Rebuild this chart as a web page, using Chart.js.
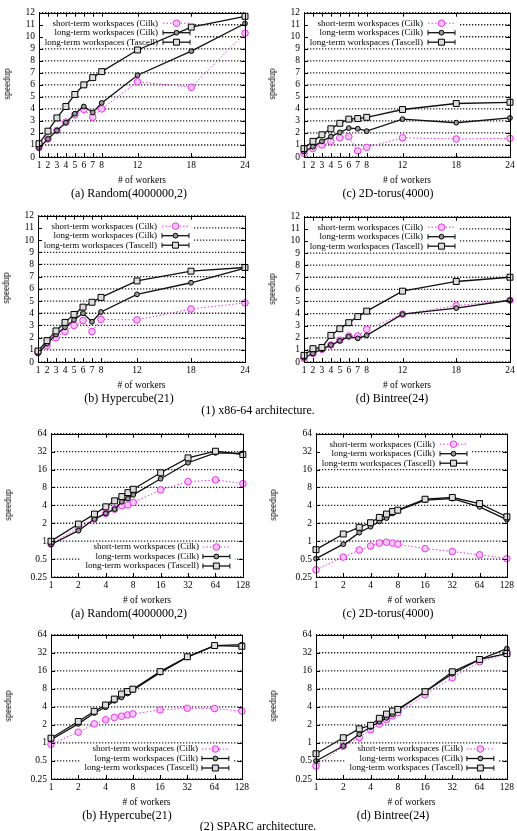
<!DOCTYPE html>
<html>
<head>
<meta charset="utf-8">
<script src="https://cdn.jsdelivr.net/npm/chart.js@4.4.1/dist/chart.umd.min.js"></script>
<style>
body { margin: 0; background: #fff; }
#page { position: relative; width: 517px; height: 831px; overflow: hidden; font-family: "Liberation Serif", "Times New Roman", serif; color: #000; }
.box { position: absolute; }
.t { position: absolute; white-space: nowrap; transform: translate(-50%, -50%); font-size: 9.5px; }
.cap { font-size: 12px; }
.ylab { transform: translate(-50%, -50%) rotate(-90deg); }
</style>
</head>
<body>
<div id="page"></div>
<script>
// x values and tick labels
const workersX86 = [1, 2, 3, 4, 5, 6, 7, 8, 12, 18, 24];
const workersSparc = [1, 2, 3, 4, 5, 6, 7, 8, 16, 32, 64, 128];
const x86XTicks = [1, 2, 3, 4, 5, 6, 7, 8, 12, 18, 24];
const x86YTicks = [0, 1, 2, 3, 4, 5, 6, 7, 8, 9, 10, 11, 12];
const sparcXTicks = [1, 2, 4, 8, 16, 32, 64, 128];
const sparcYTicks = [0.25, 0.5, 1, 2, 4, 8, 16, 32, 64];
const seriesLabels = ['short-term workspaces (Cilk)', 'long-term workspaces (Cilk)', 'long-term workspaces (Tascell)'];

// (1) x86-64 speedups
const randomX86Short = [0.8, 1.5, 2.2, 2.9, 3.5, 3.95, 3.3, 4.0, 6.25, 5.8, 10.3];
const randomX86Cilk = [0.75, 1.5, 2.2, 2.85, 3.6, 4.2, 3.7, 4.5, 6.8, 8.8, 11.1];
const randomX86Tascell = [1.1, 2.15, 3.25, 4.2, 5.2, 6.0, 6.6, 7.1, 8.9, 10.8, 11.7];
const torusX86Short = [0.3, 0.7, 1.0, 1.3, 1.6, 1.7, 0.5, 0.8, 1.6, 1.5, 1.55];
const torusX86Cilk = [0.45, 0.85, 1.3, 1.7, 2.05, 2.4, 2.35, 2.15, 3.15, 2.85, 3.25];
const torusX86Tascell = [0.7, 1.3, 1.85, 2.35, 2.8, 3.15, 3.2, 3.3, 3.95, 4.45, 4.55];
const hyperX86Short = [0.8, 1.35, 2.0, 2.5, 3.0, 3.4, 2.5, 3.5, 3.45, 4.35, 4.85];
const hyperX86Cilk = [0.7, 1.5, 2.25, 2.85, 3.45, 4.0, 3.3, 4.1, 5.55, 6.5, 7.7];
const hyperX86Tascell = [0.9, 1.75, 2.55, 3.25, 3.9, 4.5, 4.9, 5.3, 6.65, 7.45, 7.75];
const bintreeX86Short = [0.3, 0.7, 1.05, 1.4, 1.8, 2.15, 2.15, 2.7, 3.95, 4.65, 5.1];
const bintreeX86Cilk = [0.35, 0.7, 1.05, 1.4, 1.75, 2.1, 1.95, 2.2, 3.95, 4.45, 5.1];
const bintreeX86Tascell = [0.55, 1.1, 1.2, 2.2, 2.75, 3.25, 3.75, 4.2, 5.85, 6.65, 7.0];

// (2) SPARC speedups
const randomSparcShort = [0.9, 1.65, 2.35, 2.93, 3.45, 3.93, 4.08, 4.47, 7.26, 10.0, 10.7, 9.27];
const randomSparcCilk = [0.88, 1.5, 2.35, 2.93, 3.45, 4.59, 5.2, 6.0, 11.2, 20.8, 30.5, 30];
const randomSparcTascell = [1.0, 1.94, 2.85, 3.78, 4.76, 5.62, 6.55, 7.45, 14.1, 25.1, 32.5, 28.6];
const torusSparcShort = [0.33, 0.54, 0.71, 0.83, 0.93, 0.96, 0.93, 0.89, 0.75, 0.67, 0.59, 0.51];
const torusSparcCilk = [0.51, 0.89, 1.39, 1.75, 2.15, 2.44, 2.93, 3.25, 4.9, 5.2, 3.78, 2.3];
const torusSparcTascell = [0.72, 1.32, 1.71, 2.04, 2.51, 2.85, 3.16, 3.32, 5.07, 5.42, 4.29, 2.57];
const hyperSparcShort = [0.95, 1.51, 2.08, 2.43, 2.66, 2.79, 2.93, 3.05, 3.55, 3.79, 3.75, 3.4];
const hyperSparcCilk = [1.13, 2.08, 3.16, 3.93, 5.05, 5.74, 6.68, 7.6, 14.9, 26.9, 42.2, 43.7];
const hyperSparcTascell = [1.2, 2.28, 3.37, 4.29, 5.39, 6.54, 7.21, 7.89, 15.5, 27.4, 42.2, 41];
const bintreeSparcShort = [0.41, 0.88, 1.23, 1.66, 2.06, 2.46, 2.83, 3.2, 6.36, 12.3, 22.6, 30.7];
const bintreeSparcCilk = [0.5, 0.89, 1.4, 1.84, 2.25, 2.62, 3.0, 3.55, 7.16, 14.3, 24.7, 37.5];
const bintreeSparcTascell = [0.66, 1.22, 1.72, 1.97, 2.58, 3.03, 3.4, 3.63, 7.16, 15.4, 24.7, 31];

Chart.defaults.font.family = '"Liberation Serif", "Times New Roman", serif';
Chart.defaults.font.size = 9.5;
Chart.defaults.color = '#000';

// series look, gnuplot style (long-term ones are errorbar lines in the key)
const seriesStyle = [
    { borderColor: '#ee33ee', borderWidth: 1, borderDash: [1.5, 2], pointStyle: 'circle', pointRadius: 3.3,
      pointBorderColor: '#ee33ee', pointBackgroundColor: '#f9c6f9', pointBorderWidth: 1, order: 3, keyBars: false },
    { borderColor: '#111', borderWidth: 1.3, borderDash: [], pointStyle: 'circle', pointRadius: 2.4,
      pointBorderColor: '#000', pointBackgroundColor: '#999', pointBorderWidth: 1, order: 2, keyBars: true },
    { borderColor: '#111', borderWidth: 1.3, borderDash: [], pointStyle: 'rect', pointRadius: 4.2,
      pointBorderColor: '#000', pointBackgroundColor: '#ddd', pointBorderWidth: 1, order: 1, keyBars: true }
];

function keyGeometry(a, key) {
    if (key === 'tl') {
        return { textRight: a.left + 119, s0: a.left + 124, s1: a.left + 151,
                 rows: [a.top + 10.5, a.top + 20, a.top + 29.5],
                 box: [a.left + 1, a.top + 2, a.left + 156, a.top + 34] };
    }
    return { textRight: a.right - 44, s0: a.right - 40, s1: a.right - 13,
             rows: [a.bottom - 30, a.bottom - 20.5, a.bottom - 11],
             box: [a.right - 162, a.bottom - 35, a.right - 8, a.bottom - 3] };
}

// dotted grid, frame with inward ticks on all sides, gnuplot-like key
const gnuFrame = {
    id: 'gnuFrame',
    beforeDatasetsDraw(chart, args, opts) {
        const { ctx, chartArea: a, scales: { y } } = chart;
        const k = keyGeometry(a, opts.key);
        ctx.save();
        ctx.strokeStyle = '#222';
        ctx.lineWidth = 1.3;
        ctx.lineDashOffset = 0;
        ctx.setLineDash([1.3, 1.7]);
        opts.yTicks.forEach(v => {
            const py = y.getPixelForValue(v);
            ctx.beginPath();
            ctx.moveTo(a.left, py);
            ctx.lineTo(a.right, py);
            ctx.stroke();
        });
        ctx.setLineDash([]);
        ctx.fillStyle = '#fff';
        ctx.fillRect(k.box[0], k.box[1], k.box[2] - k.box[0], k.box[3] - k.box[1]);
        ctx.restore();
    },
    afterDraw(chart, args, opts) {
        const { ctx, chartArea: a, scales: { x, y } } = chart;
        const k = keyGeometry(a, opts.key);
        ctx.save();

        // frame + inward ticks
        ctx.strokeStyle = '#000';
        ctx.lineWidth = 1;
        ctx.setLineDash([]);
        ctx.strokeRect(Math.round(a.left) + 0.5, Math.round(a.top) + 0.5, Math.round(a.right - a.left), Math.round(a.bottom - a.top));
        ctx.beginPath();
        opts.xTicks.forEach(v => {
            const px = Math.round(x.getPixelForValue(v)) + 0.5;
            ctx.moveTo(px, a.bottom); ctx.lineTo(px, a.bottom - 4);
            ctx.moveTo(px, a.top); ctx.lineTo(px, a.top + 4);
        });
        opts.yTicks.forEach(v => {
            const py = Math.round(y.getPixelForValue(v)) + 0.5;
            ctx.moveTo(a.left, py); ctx.lineTo(a.left + 4, py);
            ctx.moveTo(a.right, py); ctx.lineTo(a.right - 4, py);
        });
        ctx.stroke();

        // key
        ctx.font = '9px "Liberation Serif", "Times New Roman", serif';
        ctx.textAlign = 'right';
        ctx.textBaseline = 'middle';
        chart.data.datasets.forEach((ds, i) => {
            const ry = k.rows[i];
            ctx.fillStyle = '#000';
            ctx.fillText(ds.label, k.textRight, ry);
            ctx.strokeStyle = ds.borderColor;
            ctx.lineWidth = ds.borderWidth;
            ctx.setLineDash(ds.borderDash);
            ctx.beginPath(); ctx.moveTo(k.s0, ry); ctx.lineTo(k.s1, ry); ctx.stroke();
            ctx.setLineDash([]);
            if (ds.keyBars) {
                ctx.lineWidth = 1;
                ctx.beginPath();
                ctx.moveTo(k.s0, ry - 2.5); ctx.lineTo(k.s0, ry + 2.5);
                ctx.moveTo(k.s1, ry - 2.5); ctx.lineTo(k.s1, ry + 2.5);
                ctx.stroke();
            }
            const mx = (k.s0 + k.s1) / 2;
            ctx.fillStyle = ds.pointBackgroundColor;
            ctx.strokeStyle = ds.pointBorderColor;
            ctx.lineWidth = ds.pointBorderWidth;
            ctx.beginPath();
            if (ds.pointStyle === 'rect') {
                const h = ds.pointRadius * Math.SQRT1_2;
                ctx.rect(mx - h, ry - h, 2 * h, 2 * h);
            } else {
                ctx.arc(mx, ry, ds.pointRadius, 0, Math.PI * 2);
            }
            ctx.fill(); ctx.stroke();
        });
        ctx.restore();
    }
};

const panels = [
    { L: 39, R: 245, T: 11, B: 157, log: false, xs: workersX86, data: [randomX86Short, randomX86Cilk, randomX86Tascell], key: 'tl', cap: '(a) Random(4000000,2)', capX: 129 },
    { L: 304, R: 510, T: 11, B: 157, log: false, xs: workersX86, data: [torusX86Short, torusX86Cilk, torusX86Tascell], key: 'tl', cap: '(c) 2D-torus(4000)', capX: 388 },
    { L: 38, R: 245, T: 214, B: 362, log: false, xs: workersX86, data: [hyperX86Short, hyperX86Cilk, hyperX86Tascell], key: 'tl', cap: '(b) Hypercube(21)', capX: 129 },
    { L: 304, R: 510, T: 215, B: 362, log: false, xs: workersX86, data: [bintreeX86Short, bintreeX86Cilk, bintreeX86Tascell], key: 'tl', cap: '(d) Bintree(24)', capX: 392 },
    { L: 51, R: 243, T: 432, B: 577, log: true, xs: workersSparc, data: [randomSparcShort, randomSparcCilk, randomSparcTascell], key: 'br', cap: '(a) Random(4000000,2)', capX: 129 },
    { L: 316, R: 507, T: 432, B: 577, log: true, xs: workersSparc, data: [torusSparcShort, torusSparcCilk, torusSparcTascell], key: 'tl', cap: '(c) 2D-torus(4000)', capX: 388 },
    { L: 51, R: 242, T: 633, B: 779, log: true, xs: workersSparc, data: [hyperSparcShort, hyperSparcCilk, hyperSparcTascell], key: 'br', cap: '(b) Hypercube(21)', capX: 127 },
    { L: 316, R: 507, T: 633, B: 779, log: true, xs: workersSparc, data: [bintreeSparcShort, bintreeSparcCilk, bintreeSparcTascell], key: 'br', cap: '(d) Bintree(24)', capX: 393 }
];

const page = document.getElementById('page');

function addText(txt, x, y, cls) {
    const d = document.createElement('div');
    d.className = 't' + (cls ? ' ' + cls : '');
    d.textContent = txt;
    d.style.left = x + 'px';
    d.style.top = y + 'px';
    page.appendChild(d);
}

function makePanel(p) {
    const padL = 40, padT = 8, padR = 10, padB = 20;
    const w = p.R - p.L + padL + padR, h = p.B - p.T + padT + padB;
    const div = document.createElement('div');
    div.className = 'box';
    div.style.left = (p.L - padL) + 'px';
    div.style.top = (p.T - padT) + 'px';
    div.style.width = w + 'px';
    div.style.height = h + 'px';
    const canvas = document.createElement('canvas');
    canvas.width = w; canvas.height = h;
    canvas.style.width = w + 'px'; canvas.style.height = h + 'px';
    div.appendChild(canvas);
    page.appendChild(div);

    const xTicks = p.log ? sparcXTicks : x86XTicks;
    const yTicks = p.log ? sparcYTicks : x86YTicks;
    const datasets = p.data.map((vals, i) => Object.assign({
        label: seriesLabels[i],
        data: p.xs.map((xv, j) => ({ x: xv, y: vals[j] })),
        tension: 0,
        clip: false
    }, seriesStyle[i]));

    new Chart(canvas.getContext('2d'), {
        type: 'line',
        data: { datasets },
        options: {
            responsive: false,
            animation: false,
            events: [],
            layout: { padding: { left: 0, top: padT, right: padR, bottom: 0 } },
            plugins: { legend: { display: false }, tooltip: { enabled: false }, gnuFrame: { key: p.key, xTicks, yTicks } },
            scales: {
                x: {
                    type: p.log ? 'logarithmic' : 'linear',
                    min: 1, max: p.log ? 128 : 24,
                    afterBuildTicks: s => { s.ticks = xTicks.map(v => ({ value: v })); },
                    afterFit: s => { s.height = padB; },
                    ticks: { autoSkip: false, maxRotation: 0, padding: 3, callback: v => String(v) },
                    grid: { display: false, drawTicks: false },
                    border: { display: false }
                },
                y: {
                    type: p.log ? 'logarithmic' : 'linear',
                    min: p.log ? 0.25 : 0, max: p.log ? 64 : 12,
                    afterBuildTicks: s => { s.ticks = yTicks.map(v => ({ value: v })); },
                    afterFit: s => { s.width = padL; },
                    ticks: { autoSkip: false, padding: 4, callback: v => String(v) },
                    grid: { display: false, drawTicks: false },
                    border: { display: false }
                }
            }
        },
        plugins: [gnuFrame]
    });

    addText('speedup', p.L - (p.log ? 43 : 32), (p.T + p.B) / 2, 'ylab');
    addText('# of workers', (p.L + p.R) / 2, p.B + 23);
    addText(p.cap, p.capX, p.B + 35.5, 'cap');
}

panels.forEach(makePanel);
addText('(1) x86-64 architecture.', 258, 410, 'cap');
addText('(2) SPARC architecture.', 258, 826, 'cap');
</script>
</body>
</html>
